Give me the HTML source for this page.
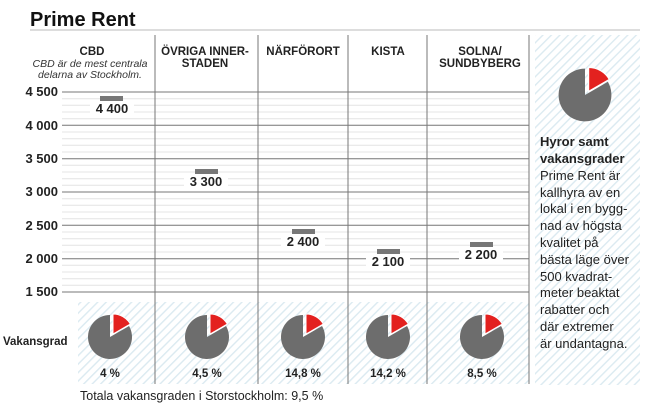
<!DOCTYPE html>
<html><head><meta charset="utf-8"><style>
body{margin:0;background:#fff;width:650px;height:409px;overflow:hidden;font-family:"Liberation Sans",sans-serif}
</style></head><body>
<svg width="650" height="409" xmlns="http://www.w3.org/2000/svg" font-family="Liberation Sans, sans-serif">
<defs>
<pattern id="h" width="6" height="6" patternUnits="userSpaceOnUse" patternTransform="rotate(-45)">
<rect width="6" height="6" fill="#fff"/><rect width="6" height="1.4" fill="#dbeaf1"/>
</pattern>
<g id="pie">
<path d="M0,0 L19.05,-11 A22,22 0 1,1 0,-22 Z" fill="#6d6d6d"/>
<path d="M3,-3 L3,-23 A20,20 0 0,1 20.3,-13 Z" fill="#e3211f" stroke="#fff" stroke-width="1"/>
</g>
</defs>
<text x="30" y="26" font-size="20" font-weight="bold" fill="#111">Prime Rent</text>
<line x1="30" y1="30" x2="640" y2="30" stroke="#bbb" stroke-width="1"/>
<rect x="78" y="302" width="451" height="82" fill="url(#h)"/>
<rect x="535" y="35" width="105" height="350" fill="url(#h)"/>
<g stroke="#e4e4e4" stroke-width="1">
<line x1="62" x2="529" y1="98.7" y2="98.7"/><line x1="62" x2="529" y1="105.3" y2="105.3"/><line x1="62" x2="529" y1="112" y2="112"/><line x1="62" x2="529" y1="118.7" y2="118.7"/>
<line x1="62" x2="529" y1="132" y2="132"/><line x1="62" x2="529" y1="138.7" y2="138.7"/><line x1="62" x2="529" y1="145.3" y2="145.3"/><line x1="62" x2="529" y1="152" y2="152"/>
<line x1="62" x2="529" y1="165.3" y2="165.3"/><line x1="62" x2="529" y1="172" y2="172"/><line x1="62" x2="529" y1="178.7" y2="178.7"/><line x1="62" x2="529" y1="185.3" y2="185.3"/>
<line x1="62" x2="529" y1="198.7" y2="198.7"/><line x1="62" x2="529" y1="205.3" y2="205.3"/><line x1="62" x2="529" y1="212" y2="212"/><line x1="62" x2="529" y1="218.7" y2="218.7"/>
<line x1="62" x2="529" y1="232" y2="232"/><line x1="62" x2="529" y1="238.7" y2="238.7"/><line x1="62" x2="529" y1="245.3" y2="245.3"/><line x1="62" x2="529" y1="252" y2="252"/>
<line x1="62" x2="529" y1="265.3" y2="265.3"/><line x1="62" x2="529" y1="272" y2="272"/><line x1="62" x2="529" y1="278.7" y2="278.7"/><line x1="62" x2="529" y1="285.3" y2="285.3"/>
</g>
<g stroke="#777" stroke-width="1">
<line x1="62" x2="529" y1="92" y2="92"/><line x1="62" x2="529" y1="125.3" y2="125.3"/><line x1="62" x2="529" y1="158.7" y2="158.7"/><line x1="62" x2="529" y1="192" y2="192"/><line x1="62" x2="529" y1="225.3" y2="225.3"/><line x1="62" x2="529" y1="258.7" y2="258.7"/><line x1="62" x2="529" y1="292" y2="292"/>
<line x1="155" x2="155" y1="35" y2="384"/><line x1="258" x2="258" y1="35" y2="384"/><line x1="348" x2="348" y1="35" y2="384"/><line x1="427" x2="427" y1="35" y2="384"/><line x1="529" x2="529" y1="35" y2="384"/>
</g>
<g font-size="13" font-weight="bold" fill="#222" text-anchor="end">
<text x="58" y="96">4 500</text><text x="58" y="130">4 000</text><text x="58" y="163">3 500</text><text x="58" y="196">3 000</text><text x="58" y="230">2 500</text><text x="58" y="263">2 000</text><text x="58" y="296">1 500</text>
</g>
<g font-size="11.5" font-weight="bold" fill="#222" text-anchor="middle">
<text x="92" y="55">CBD</text>
<text x="205" y="55">ÖVRIGA INNER-</text><text x="205" y="67">STADEN</text>
<text x="303" y="55">NÄRFÖRORT</text>
<text x="388" y="55">KISTA</text>
<text x="480" y="55">SOLNA/</text><text x="480" y="67">SUNDBYBERG</text>
</g>
<g font-size="10.5" font-style="italic" fill="#333" text-anchor="middle">
<text x="90" y="67">CBD är de mest centrala</text><text x="90" y="78">delarna av Stockholm.</text>
</g>
<g fill="#777">
<rect x="100" y="96" width="23" height="5"/><rect x="195" y="169" width="23" height="5"/><rect x="292" y="229" width="23" height="5"/><rect x="377" y="249" width="23" height="5"/><rect x="470" y="242" width="23" height="5"/>
</g>
<g font-size="13" font-weight="bold" fill="#222" text-anchor="middle">
<rect x="90" y="102" width="44" height="14" fill="#fff"/><text x="112" y="113">4 400</text>
<rect x="184" y="175" width="44" height="14" fill="#fff"/><text x="206" y="186">3 300</text>
<rect x="281" y="235" width="44" height="14" fill="#fff"/><text x="303" y="246">2 400</text>
<rect x="366" y="255" width="44" height="14" fill="#fff"/><text x="388" y="266">2 100</text>
<rect x="459" y="248" width="44" height="14" fill="#fff"/><text x="481" y="259">2 200</text>
</g>
<use href="#pie" x="110" y="337"/><use href="#pie" x="207" y="337"/><use href="#pie" x="303" y="337"/><use href="#pie" x="388" y="337"/><use href="#pie" x="482" y="337"/>
<use href="#pie" transform="translate(585,95) scale(1.2)"/>
<g font-size="11.5" font-weight="bold" fill="#222" text-anchor="middle">
<text x="110" y="377">4 %</text><text x="207" y="377">4,5 %</text><text x="303" y="377">14,8 %</text><text x="388" y="377">14,2 %</text><text x="482" y="377">8,5 %</text>
</g>
<text x="3" y="345" font-size="11.5" font-weight="bold" fill="#222">Vakansgrad</text>
<text x="80" y="400" font-size="12.5" fill="#222">Totala vakansgraden i Storstockholm: 9,5 %</text>
<g font-size="13" fill="#222">
<text x="540" y="146" font-weight="bold">Hyror samt</text>
<text x="540" y="163" font-weight="bold">vakansgrader</text>
<text x="540" y="180">Prime Rent är</text>
<text x="540" y="197">kallhyra av en</text>
<text x="540" y="213">lokal i en bygg-</text>
<text x="540" y="230">nad av högsta</text>
<text x="540" y="247">kvalitet på</text>
<text x="540" y="264">bästa läge över</text>
<text x="540" y="281">500 kvadrat-</text>
<text x="540" y="297">meter beaktat</text>
<text x="540" y="314">rabatter och</text>
<text x="540" y="331">där extremer</text>
<text x="540" y="348">är undantagna.</text>
</g>
</svg>
</body></html>
